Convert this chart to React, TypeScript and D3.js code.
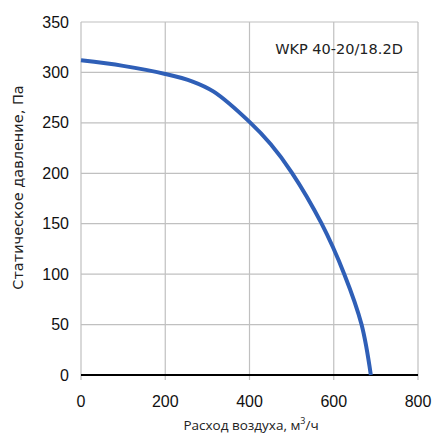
import React from "react";
import * as d3 from "d3";

const flow = [0, 100, 200, 265, 315, 400, 450, 500, 570, 625, 666, 688];
const pressure = [312, 306.5, 298.5, 291, 281, 251, 229, 201, 151, 100, 50, 0];
const xTicks = [0, 200, 400, 600, 800];
const yTicks = [0, 50, 100, 150, 200, 250, 300, 350];
const modelLabel = "WKP 40-20/18.2D";
const xTitle = "Расход воздуха, м";
const yTitle = "Статическое давление, Па";

export default function App() {
  const W = 435, H = 434;
  const x = d3.scaleLinear().domain([0, 800]).range([81, 418]);
  const y = d3.scaleLinear().domain([0, 350]).range([375, 22]);
  const pts = flow.map((f, i) => [f, pressure[i]] as [number, number]);
  const line = d3.line<[number, number]>().x(d => x(d[0])).y(d => y(d[1])).curve(d3.curveCatmullRom.alpha(0.5));
  const tickFont = "Liberation Sans, Arial, sans-serif";
  const titleFont = "'DejaVu Sans', sans-serif";
  const xTitleFont = "'Open Sans', sans-serif";
  return (
    <svg width={W} height={H} style={{ position: "absolute", left: 0, top: 0 }}>
      <rect width={W} height={H} fill="#fff" />
      {xTicks.map(t => (
        <g key={"x" + t}>
          <line x1={x(t)} x2={x(t)} y1={y(350)} y2={y(0) + 5} stroke="#c0c0c0" strokeWidth={1.2} />
          <text x={x(t)} y={407} textAnchor="middle" fontFamily={tickFont} fontSize={16} fill="#111">{t}</text>
        </g>
      ))}
      {yTicks.map(t => (
        <g key={"y" + t}>
          {t > 0 && <line x1={x(0)} x2={x(800)} y1={y(t)} y2={y(t)} stroke="#c0c0c0" strokeWidth={1.2} />}
          <text x={69} y={y(t) + 5.5} textAnchor="end" fontFamily={tickFont} fontSize={16} fill="#111">{t}</text>
        </g>
      ))}
      <line x1={x(0)} x2={x(800)} y1={y(0)} y2={y(0)} stroke="#000" strokeWidth={2} />
      <path d={line(pts) || ""} fill="none" stroke="#2f5fb7" strokeWidth={4} />
      <text x={339} y={54} textAnchor="middle" fontFamily={titleFont} fontSize={14.5} fill="#222">{modelLabel}</text>
      <text x={251} y={430} textAnchor="middle" fontFamily={xTitleFont} fontSize={13.5} fill="#222">
        {xTitle}<tspan dy={-6} fontSize={9}>3</tspan><tspan dy={6}>/ч</tspan>
      </text>
      <text transform={`translate(23, 187.5) rotate(-90)`} textAnchor="middle" fontFamily={titleFont} fontSize={14.5} fill="#222">{yTitle}</text>
    </svg>
  );
}
